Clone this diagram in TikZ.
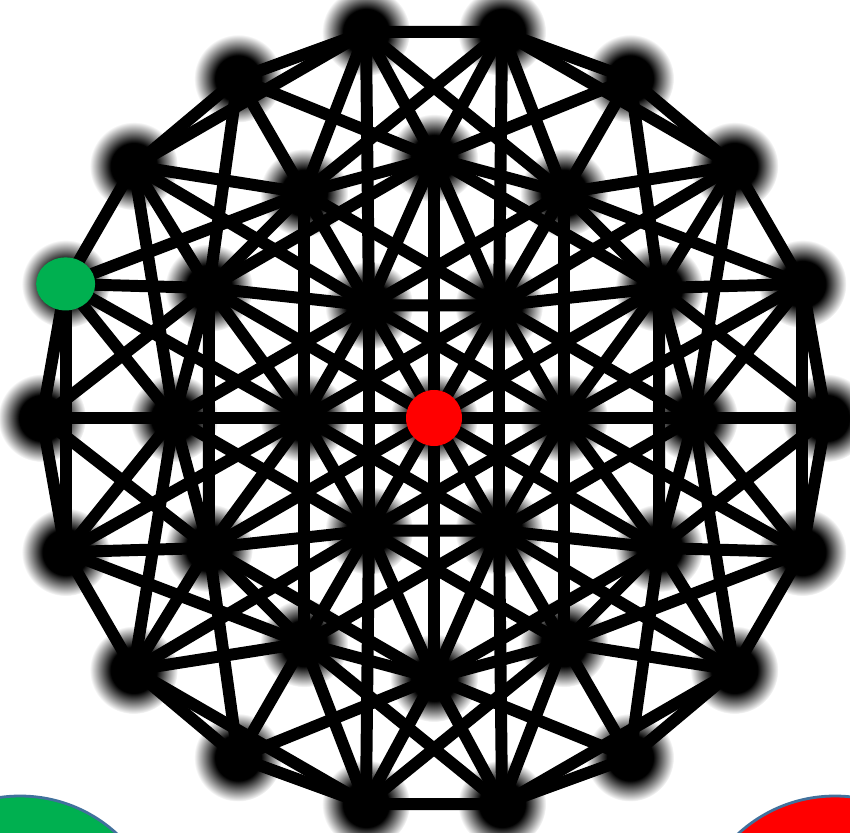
\documentclass[tikz,border=0pt]{standalone}
\usetikzlibrary{backgrounds, fadings, shapes.geometric}
\definecolor{startcolor}{RGB}{0, 176, 80}
\definecolor{goalcolor} {RGB}{255, 0, 0}
\definecolor{rimcolor}  {RGB}{65, 113, 156}
\pgfdeclareradialshading{softdotshade}{\pgfpointorigin}{%
	color(0bp)=(pgftransparent!0); color(13bp)=(pgftransparent!0);
	color(25bp)=(pgftransparent!100); color(50bp)=(pgftransparent!100)}
\pgfdeclarefading{softdot}{\pgfuseshading{softdotshade}}
\tikzset{
	dot/.style={
		circle, inner sep=0pt, minimum size=8.8mm,
		fill=black, path fading=softdot
	},
	link/.style={
		line width=3.4pt, color=black
	},
	startdot/.style={
		ellipse, inner sep=0pt, minimum width=5.9mm, minimum height=5.3mm,
		fill=startcolor
	},
	goaldot/.style={
		circle, inner sep=0pt, minimum size=5.6mm, fill=goalcolor
	},
	bigdot/.style={
		circle, inner sep=0pt, minimum size=28.6mm,
		draw=rimcolor, line width=0.8pt
	}
}

\begin{document}
\begin{tikzpicture}
	\useasboundingbox (-4.34,-4.14) rectangle (4.16,4.18);
	\clip (-4.34,-4.14) rectangle (4.16,4.18);
	
	%% ═══════════════════════════════
	%%  NODES — outer ring (18), middle ring (12), inner ring (6), centre
	%% ═══════════════════════════════
	\foreach \k in {0,...,17} \node[dot] (o\k) at (20*\k:3.92) {};
	\foreach \k in {0,...,11} \node[dot] (m\k) at (30*\k:2.60) {};
	\foreach \k in {0,...,5}  \node[dot] (i\k) at (60*\k:1.30) {};
	\node[dot] (c) at (0,0) {};
	
	%% ═══════════════════════════════
	%%  LINKS
	%% ═══════════════════════════════
	\begin{scope}[on background layer]
		% first neighbours, 0 deg
		\draw[link] (o6.center) -- (o5.center) -- (o4.center) -- (o3.center);
		\draw[link] (o7.center) -- (m4.center) -- (m3.center) -- (m2.center) -- (o2.center);
		\draw[link] (o8.center) -- (m5.center) -- (i2.center) -- (i1.center) -- (m1.center) -- (o1.center);
		\draw[link] (o9.center) -- (m6.center) -- (i3.center) -- (c.center) -- (i0.center) -- (m0.center) -- (o0.center);
		\draw[link] (o10.center) -- (m7.center) -- (i4.center) -- (i5.center) -- (m11.center) -- (o17.center);
		\draw[link] (o11.center) -- (m8.center) -- (m9.center) -- (m10.center) -- (o16.center);
		\draw[link] (o12.center) -- (o13.center) -- (o14.center) -- (o15.center);
		
		% first neighbours, 60 deg
		\draw[link] (o9.center) -- (o8.center) -- (o7.center) -- (o6.center);
		\draw[link] (o10.center) -- (m6.center) -- (m5.center) -- (m4.center) -- (o5.center);
		\draw[link] (o11.center) -- (m7.center) -- (i3.center) -- (i2.center) -- (m3.center) -- (o4.center);
		\draw[link] (o12.center) -- (m8.center) -- (i4.center) -- (c.center) -- (i1.center) -- (m2.center) -- (o3.center);
		\draw[link] (o13.center) -- (m9.center) -- (i5.center) -- (i0.center) -- (m1.center) -- (o2.center);
		\draw[link] (o14.center) -- (m10.center) -- (m11.center) -- (m0.center) -- (o1.center);
		\draw[link] (o15.center) -- (o16.center) -- (o17.center) -- (o0.center);
		
		% first neighbours, 120 deg
		\draw[link] (o0.center) -- (o1.center) -- (o2.center) -- (o3.center);
		\draw[link] (o17.center) -- (m0.center) -- (m1.center) -- (m2.center) -- (o4.center);
		\draw[link] (o16.center) -- (m11.center) -- (i0.center) -- (i1.center) -- (m3.center) -- (o5.center);
		\draw[link] (o15.center) -- (m10.center) -- (i5.center) -- (c.center) -- (i2.center) -- (m4.center) -- (o6.center);
		\draw[link] (o14.center) -- (m9.center) -- (i4.center) -- (i3.center) -- (m5.center) -- (o7.center);
		\draw[link] (o13.center) -- (m8.center) -- (m7.center) -- (m6.center) -- (o8.center);
		\draw[link] (o12.center) -- (o11.center) -- (o10.center) -- (o9.center);
		
		% second neighbours, 30 deg
		\draw[link] (o7.center) -- (o5.center);
		\draw[link] (o8.center) -- (m4.center) -- (o4.center);
		\draw[link] (o9.center) -- (m5.center) -- (m3.center) -- (o3.center);
		\draw[link] (m6.center) -- (i2.center) -- (m2.center);
		\draw[link] (o10.center) -- (i3.center) -- (i1.center) -- (o2.center);
		\draw[link] (m7.center) -- (c.center) -- (m1.center);
		\draw[link] (o11.center) -- (i4.center) -- (i0.center) -- (o1.center);
		\draw[link] (m8.center) -- (i5.center) -- (m0.center);
		\draw[link] (o12.center) -- (m9.center) -- (m11.center) -- (o0.center);
		\draw[link] (o13.center) -- (m10.center) -- (o17.center);
		\draw[link] (o14.center) -- (o16.center);
		
		% second neighbours, 90 deg
		\draw[link] (o10.center) -- (o8.center);
		\draw[link] (o11.center) -- (m6.center) -- (o7.center);
		\draw[link] (o12.center) -- (m7.center) -- (m5.center) -- (o6.center);
		\draw[link] (m8.center) -- (i3.center) -- (m4.center);
		\draw[link] (o13.center) -- (i4.center) -- (i2.center) -- (o5.center);
		\draw[link] (m9.center) -- (c.center) -- (m3.center);
		\draw[link] (o14.center) -- (i5.center) -- (i1.center) -- (o4.center);
		\draw[link] (m10.center) -- (i0.center) -- (m2.center);
		\draw[link] (o15.center) -- (m11.center) -- (m1.center) -- (o3.center);
		\draw[link] (o16.center) -- (m0.center) -- (o2.center);
		\draw[link] (o17.center) -- (o1.center);
		
		% second neighbours, 150 deg
		\draw[link] (o13.center) -- (o11.center);
		\draw[link] (o14.center) -- (m8.center) -- (o10.center);
		\draw[link] (o15.center) -- (m9.center) -- (m7.center) -- (o9.center);
		\draw[link] (m10.center) -- (i4.center) -- (m6.center);
		\draw[link] (o16.center) -- (i5.center) -- (i3.center) -- (o8.center);
		\draw[link] (m11.center) -- (c.center) -- (m5.center);
		\draw[link] (o17.center) -- (i0.center) -- (i2.center) -- (o7.center);
		\draw[link] (m0.center) -- (i1.center) -- (m4.center);
		\draw[link] (o0.center) -- (m1.center) -- (m3.center) -- (o6.center);
		\draw[link] (o1.center) -- (m2.center) -- (o5.center);
		\draw[link] (o2.center) -- (o4.center);
	\end{scope}
	
	%% ═══════════════════════════════
	%%  MARKED NODES AND KEY DISCS
	%% ═══════════════════════════════
	\node[startdot] (start) at (o8) {};
	\node[goaldot]  (goal)  at (c)  {};
	
	\node[bigdot, fill=startcolor] (startkey) at (-4.14,-5.21) {};
	\node[bigdot, fill=goalcolor]  (goalkey)  at (4.01,-5.21)  {};
\end{tikzpicture}
\end{document}
